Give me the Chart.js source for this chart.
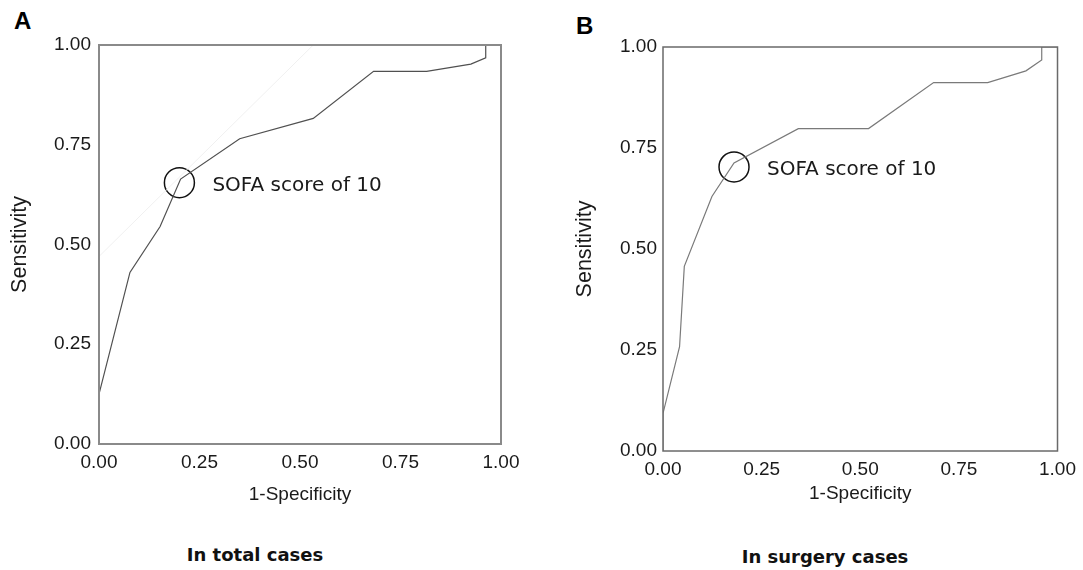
<!DOCTYPE html>
<html>
<head>
<meta charset="utf-8">
<script src="https://cdn.jsdelivr.net/npm/chart.js@4"></script>
<style>
  body { margin: 0; background: #fff; overflow: hidden; }
  canvas { position: absolute; top: 0; }
  .panel { position: absolute; font: bold 24px "Liberation Sans", Arial, sans-serif; line-height: 1; color: #000; }
  .caption { position: absolute; font: bold 18px "DejaVu Sans", Verdana, sans-serif; line-height: 1; color: #111;
             transform: translateX(-50%); white-space: nowrap; }
</style>
</head>
<body>
<div class="panel" style="left:14px;top:9px">A</div>
<div class="panel" style="left:576px;top:14px">B</div>
<canvas id="total" width="540" height="520" style="left:0"></canvas>
<canvas id="surgery" width="543" height="520" style="left:540px"></canvas>
<div class="caption" style="left:255px;top:546px">In total cases</div>
<div class="caption" style="left:825px;top:548px">In surgery cases</div>
<script>
const tickLabels = ['0.00', '0.25', '0.50', '0.75', '1.00'];

// ROC curve, all cases (1-specificity, sensitivity)
const totalFpr = [0, 0, 0.077, 0.152, 0.203, 0.35, 0.533, 0.683, 0.815, 0.925, 0.962, 0.962, 1];
const totalTpr = [0, 0.125, 0.43, 0.545, 0.664, 0.765, 0.816, 0.934, 0.934, 0.952, 0.968, 1, 1];
// faint reference line seen in panel A
const totalRefX = [0, 0.533];
const totalRefY = [0.47, 1];
const totalCut = { x: 0.2, y: 0.655 };

// ROC curve, surgery cases
const surgFpr = [0, 0, 0.042, 0.054, 0.124, 0.18, 0.343, 0.521, 0.686, 0.823, 0.92, 0.96, 0.96, 1];
const surgTpr = [0, 0.093, 0.258, 0.457, 0.63, 0.713, 0.798, 0.798, 0.912, 0.912, 0.941, 0.968, 1, 1];
const surgCut = { x: 0.18, y: 0.703 };

const cutText = 'SOFA score of 10';

const toPoints = (xs, ys) => xs.map((x, i) => ({ x: x, y: ys[i] }));

const frame = {
  id: 'frame',
  afterDatasetsDraw(chart, args, opts) {
    const { ctx, chartArea: a } = chart;
    ctx.save();
    ctx.strokeStyle = opts.color;
    ctx.lineWidth = opts.width;
    ctx.strokeRect(a.left, a.top, a.right - a.left, a.bottom - a.top);
    ctx.restore();
  }
};

const cutLabel = {
  id: 'cutLabel',
  afterDatasetsDraw(chart, args, opts) {
    const { ctx, scales } = chart;
    ctx.save();
    ctx.font = '20px "DejaVu Sans", Verdana, sans-serif';
    ctx.fillStyle = '#1a1a1a';
    ctx.textBaseline = 'middle';
    ctx.fillText(opts.text, scales.x.getPixelForValue(opts.x) + 33, scales.y.getPixelForValue(opts.y) + 3);
    ctx.restore();
  }
};

function rocChart(id, curve, cut, extra, box) {
  const datasets = [
    {
      data: curve,
      showLine: true,
      borderColor: box.line,
      borderWidth: 1.2,
      pointRadius: 0
    },
    {
      data: [cut],
      pointRadius: 15,
      pointBorderWidth: 1.5,
      pointBorderColor: '#111',
      pointBackgroundColor: 'rgba(0,0,0,0)'
    }
  ];
  if (extra) {
    datasets.unshift({
      data: extra,
      showLine: true,
      borderColor: '#f0f0f0',
      borderWidth: 1,
      pointRadius: 0
    });
  }
  const tickFont = { family: '"Liberation Sans", Arial, sans-serif', size: 19 };
  return new Chart(document.getElementById(id), {
    type: 'scatter',
    data: { datasets: datasets },
    plugins: [frame, cutLabel],
    options: {
      responsive: false,
      animation: false,
      layout: { padding: box.padding },
      plugins: {
        legend: { display: false },
        tooltip: { enabled: false },
        frame: { color: box.frame, width: box.frameWidth },
        cutLabel: { text: cutText, x: cut.x, y: cut.y }
      },
      scales: {
        x: {
          type: 'linear',
          min: 0,
          max: 1,
          grid: { display: false, drawTicks: false },
          border: { display: false },
          ticks: {
            stepSize: 0.25,
            padding: 7,
            color: '#1a1a1a',
            font: tickFont,
            maxRotation: 0,
            callback: (v, i) => tickLabels[i]
          },
          title: {
            display: true,
            text: '1-Specificity',
            color: '#1a1a1a',
            font: tickFont,
            padding: { top: 0, bottom: box.xTitlePad }
          },
          afterFit: (s) => { s.height = box.xHeight; }
        },
        y: {
          type: 'linear',
          min: 0,
          max: 1,
          grid: { display: false, drawTicks: false },
          border: { display: false },
          ticks: {
            stepSize: 0.25,
            padding: box.yTickPad,
            color: '#1a1a1a',
            font: tickFont,
            callback: (v, i) => tickLabels[i]
          },
          title: {
            display: true,
            text: 'Sensitivity',
            color: '#1a1a1a',
            font: { family: '"Liberation Sans", Arial, sans-serif', size: 21.5 },
            padding: { top: box.yTitlePad, bottom: 0 }
          },
          afterFit: (s) => { s.width = box.yWidth; }
        }
      }
    }
  });
}

rocChart('total', toPoints(totalFpr, totalTpr), totalCut, toPoints(totalRefX, totalRefY), {
  padding: { top: 45, right: 39, bottom: 0, left: 0 },
  yWidth: 99, xHeight: 76, yTickPad: 8, yTitlePad: 7, xTitlePad: 14,
  line: '#505050', frame: '#8a8a8a', frameWidth: 2
});

rocChart('surgery', toPoints(surgFpr, surgTpr), surgCut, null, {
  padding: { top: 47, right: 17, bottom: 0, left: 0 },
  yWidth: 123, xHeight: 69, yTickPad: 6, yTitlePad: 32, xTitlePad: 15,
  line: '#7a7a7a', frame: '#6a6a6a', frameWidth: 1.5
});
</script>
</body>
</html>
